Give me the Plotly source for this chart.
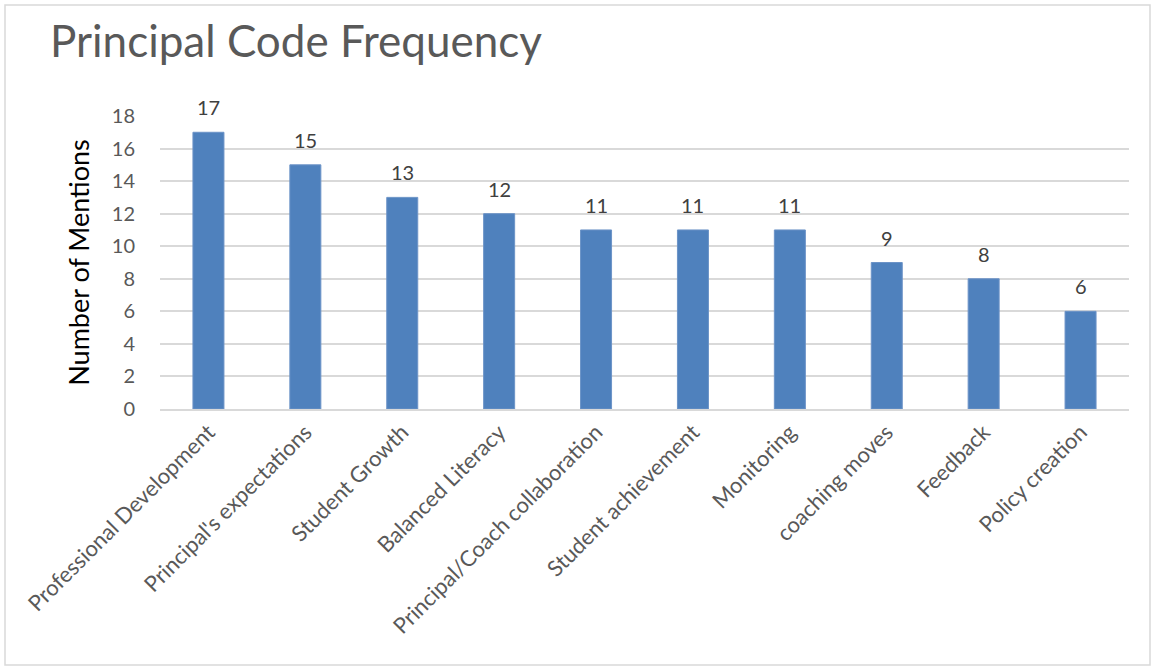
import plotly.graph_objects as go

categories = ["Professional Development", "Principal's expectations", "Student Growth",
              "Balanced Literacy", "Principal/Coach collaboration", "Student achievement",
              "Monitoring", "coaching moves", "Feedback", "Policy creation"]
mentions = [17, 15, 13, 12, 11, 11, 11, 9, 8, 6]
y_ticks = [0, 2, 4, 6, 8, 10, 12, 14, 16, 18]

FONT = "Lato"
W, H = 1153, 668
L, R, T, B = 160, 24, 116, 259
pw, ph = W - L - R, H - T - B

def px_x(x):
    return (x - L) / pw

def px_y(y):
    return (H - B - y) / ph

fig = go.Figure(go.Bar(
    x=categories, y=mentions,
    marker=dict(color="#4F81BD", line=dict(color="#6C93C7", width=1)),
    showlegend=False,
))

for c, v in zip(categories, mentions):
    fig.add_annotation(x=c, y=v, text=str(v), showarrow=False, yshift=25, yanchor="middle",
                       font=dict(family=FONT, size=20, color="#404040"))

fig.update_layout(
    width=W, height=H,
    margin=dict(l=L, r=R, t=T, b=B),
    paper_bgcolor="white", plot_bgcolor="white",
    bargap=0.68,
    showlegend=False,
    title=dict(text="Principal Code Frequency", x=50 / W, xref="container", xanchor="left",
               y=1 - 42 / H, yref="container", yanchor="middle",
               font=dict(family=FONT, size=44, color="#595959")),
    xaxis=dict(tickangle=-45, tickfont=dict(family=FONT, size=22, color="#595959"),
               showline=True, linecolor="#D9D9D9", linewidth=1.5, ticks="", showgrid=False),
    yaxis=dict(range=[0, 18], tickvals=y_ticks, showgrid=True, gridcolor="#D9D9D9", gridwidth=1.5,
               zeroline=False, tickfont=dict(family=FONT, size=20, color="#595959"),
               ticks="outside", ticklen=20, tickcolor="white",
               title=dict(text="Number of Mentions", standoff=14,
                          font=dict(family=FONT, size=27, color="#000000"))),
    shapes=[dict(type="rect", xref="paper", yref="paper",
                 x0=px_x(5), x1=px_x(1150), y0=px_y(665), y1=px_y(5),
                 line=dict(color="#D9D9D9", width=1.5), fillcolor="rgba(0,0,0,0)", layer="below")],
)

fig.write_html("out.html")
